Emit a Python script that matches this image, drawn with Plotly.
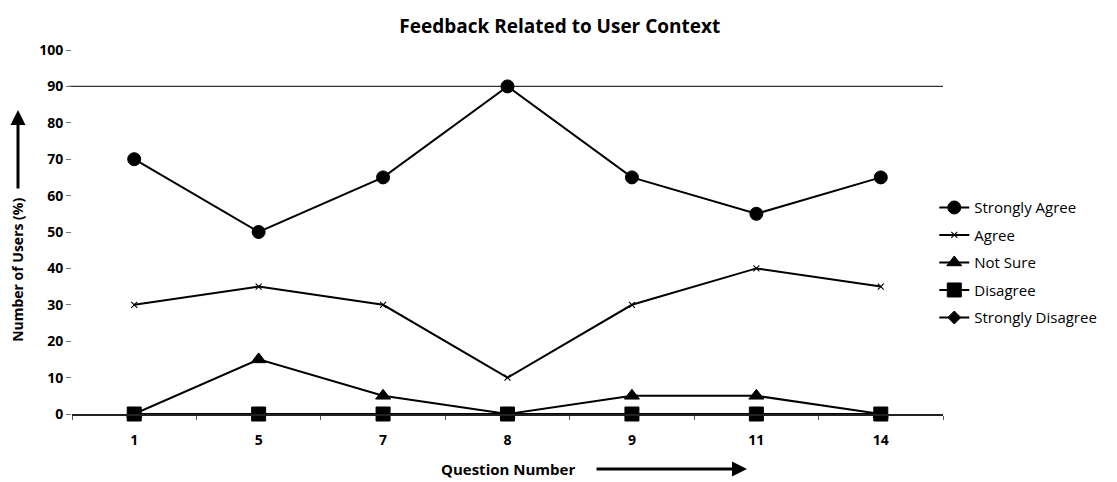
import plotly.graph_objects as go

questions = ["1", "5", "7", "8", "9", "11", "14"]
strongly_agree = [70, 50, 65, 90, 65, 55, 65]
agree = [30, 35, 30, 10, 30, 40, 35]
not_sure = [0, 15, 5, 0, 5, 5, 0]
disagree = [0, 0, 0, 0, 0, 0, 0]
strongly_disagree = [0, 0, 0, 0, 0, 0, 0]
y_ticks = [0, 10, 20, 30, 40, 50, 60, 70, 80, 90, 100]

FONT = "Open Sans"
series = [
    ("Strongly Agree", strongly_agree, "circle", 13, 1),
    ("Agree", agree, "x-thin-open", 6, 1.1),
    ("Not Sure", not_sure, "triangle-up", 13, 1),
    ("Strongly Disagree", strongly_disagree, "diamond", 10, 1),
    ("Disagree", disagree, "square", 14, 1),
]
legend_order = {"Strongly Agree": 1, "Agree": 2, "Not Sure": 3, "Disagree": 4, "Strongly Disagree": 5}

fig = go.Figure()
for name, vals, sym, size, lw in series:
    fig.add_trace(go.Scatter(
        x=questions, y=vals, name=name, mode="lines+markers",
        line=dict(color="black", width=2),
        marker=dict(symbol=sym, size=size, color="black",
                    line=dict(color="black", width=lw)),
        cliponaxis=False,
        legendgroup=name, legendrank=legend_order[name],
    ))

fig.add_shape(type="line", xref="paper", yref="y", x0=-0.004, x1=1.0, y0=90, y1=90,
              line=dict(color="#333333", width=1.3), layer="below")

# page body has an 8px margin, so the figure is 8px smaller with margins shifted
fig.update_layout(
    width=1109, height=474,
    margin=dict(l=64, r=174, t=42, b=68),
    paper_bgcolor="white", plot_bgcolor="white",
    font=dict(family=FONT, color="black"),
    title=dict(text="Feedback Related to User Context", x=0.56, xanchor="center",
               xref="paper", y=0.962, yanchor="middle",
               font=dict(size=19, family=FONT, weight="bold")),
    showlegend=True,
    legend=dict(x=0.99, y=0.612, xanchor="left", yanchor="top",
                font=dict(size=15, family=FONT), tracegroupgap=5,
                itemwidth=30, bgcolor="rgba(0,0,0,0)"),
    xaxis=dict(type="category", range=[-0.5, 6.5], showgrid=False,
               showline=True, linecolor="#222222", linewidth=1.5,
               ticks="outside", tickson="boundaries", ticklen=4, tickcolor="#555555",
               ticklabelstandoff=12,
               tickfont=dict(size=14, family=FONT, weight="bold"), zeroline=False),
    yaxis=dict(range=[0, 100], tickvals=y_ticks, showgrid=False, showline=False,
               zeroline=False, ticks="outside", ticklen=5, tickcolor="#777777",
               tickfont=dict(size=14, family=FONT, weight="bold")),
)

# axis titles with arrows
fig.add_annotation(text="Question Number", xref="paper", yref="paper",
                   x=0.501, y=-0.151, showarrow=False,
                   font=dict(size=15, family=FONT, weight="bold"),
                   xanchor="center", yanchor="middle")
fig.add_annotation(text="", xref="paper", yref="paper", x=0.775, y=-0.151,
                   ax=-152, ay=0, showarrow=True, arrowhead=2, arrowsize=1,
                   arrowwidth=3, arrowcolor="black")
fig.add_annotation(text="Number of Users (%)", xref="paper", yref="paper",
                   x=-0.062, y=0.396, textangle=-90, showarrow=False,
                   font=dict(size=14, family=FONT, weight="bold"),
                   xanchor="center", yanchor="middle")
fig.add_annotation(text="", xref="paper", yref="paper", x=-0.062, y=0.835,
                   ax=0, ay=80, showarrow=True, arrowhead=2, arrowsize=1,
                   arrowwidth=3, arrowcolor="black")

fig.write_html("out.html")
